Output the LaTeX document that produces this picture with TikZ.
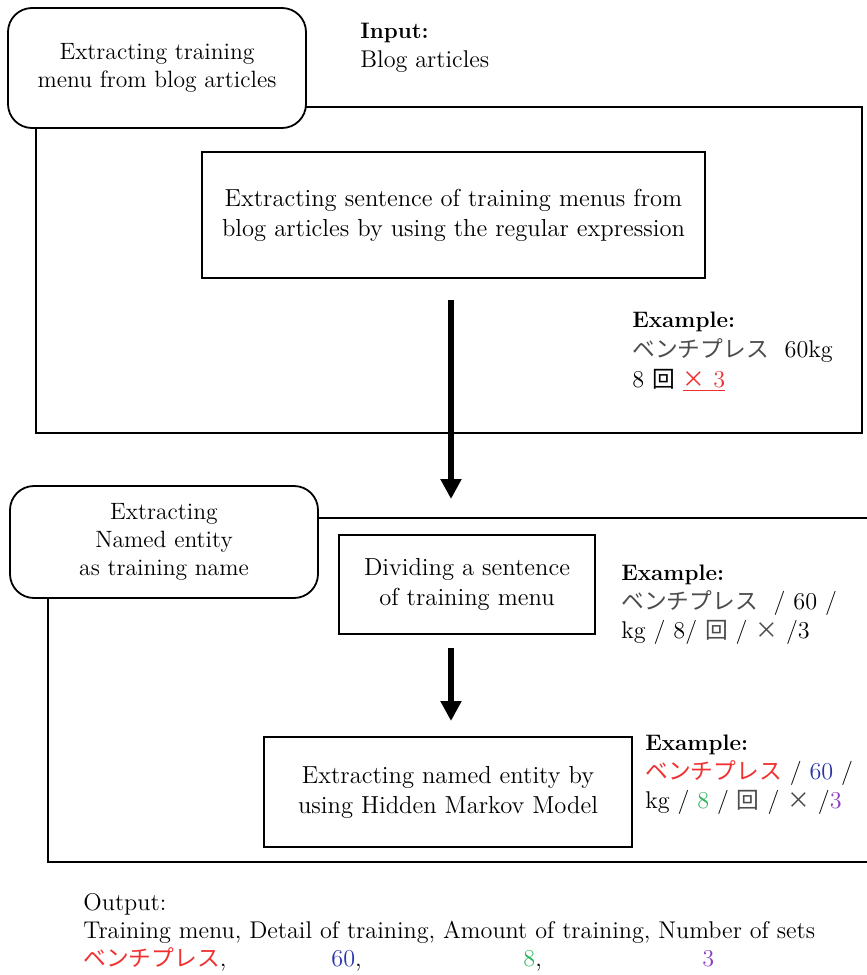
\documentclass[tikz,border=0pt]{standalone}
\usepackage{fontspec}
\newfontfamily\jp[Scale=0.94]{Noto Sans CJK JP}
\usetikzlibrary{arrows.meta,positioning}
\definecolor{jred}{HTML}{F03030}
\definecolor{jblue}{HTML}{2A35A8}
\definecolor{jgreen}{HTML}{2DB35A}
\definecolor{jpurple}{HTML}{8A3FC0}
\newcommand{\kana}[1]{{\jp\color{black!70}#1}}
\newcommand{\head}[1]{{\fontsize{11.2}{14.5}\selectfont\bfseries #1}}
\tikzset{
  stage/.style={draw, rounded corners=12pt, fill=white, line width=0.9pt,
    align=center, font=\fontsize{11.8}{14}\selectfont},
  procbox/.style={draw, fill=white, line width=0.9pt,
    align=center, font=\fontsize{12.3}{15}\selectfont},
  frame/.style={line width=0.9pt},
  flow/.style={line width=2.6pt, -{Triangle[width=10pt,length=10pt]}},
  note/.style={align=left, inner sep=0pt, anchor=west,
    font=\fontsize{12.1}{14.5}\selectfont},
}
\begin{document}
\begin{tikzpicture}[x=0.5pt,y=-0.5pt]
\useasboundingbox (0,0) rectangle (867,975);
% first stage
\draw[frame] (36,107) rectangle (862,433);
\node[stage, minimum width=149pt, minimum height=60pt] (menu) at (157,68)
  {Extracting training\\menu from blog articles};
\node[note] (input) at (360,48) {\head{Input:}\\Blog articles};
\node[procbox, minimum width=251.5pt, minimum height=63pt] (regex) at (453.5,215)
  {Extracting sentence of training menus from\\blog articles by using the regular expression};
\node[note, font=\fontsize{12.1}{15}\selectfont] (ex1) at (632,352)
  {\head{Example:}\\\kana{ベンチプレス}\ \ 60kg\\8 {\jp 回}\ {\color{jred}\underline{{\jp ×}\ 3}}};
% second stage
\draw[frame] (867,518) -- (48,518) -- (48,862) -- (867,862);
\node[stage, minimum width=154pt, minimum height=56pt] (entity) at (164,542)
  {Extracting\\Named entity\\as training name};
\node[procbox, minimum width=128pt, minimum height=49.5pt] (divide) at (467,584.5)
  {Dividing a sentence\\of training menu};
\node[note] (ex2) at (621,605)
  {\head{Example:}\\\kana{ベンチプレス}\ \ / 60 /\\kg / 8/ \kana{回} / \kana{×}\ /3};
\node[procbox, minimum width=184pt, minimum height=55pt] (hmm) at (448,792)
  {Extracting named entity by\\using Hidden Markov Model};
\node[note] (ex3) at (645,775)
  {\head{Example:}\\{\jp\color{jred}ベンチプレス} / {\color{jblue}60} /\\kg / {\color{jgreen}8} / \kana{回} / \kana{×} /{\color{jpurple}3}};
% output
\node[note, font=\fontsize{12.1}{14}\selectfont] (output) at (83,932)
  {Output:\\Training menu, Detail of training, Amount of training,\ Number of sets\\
   \makebox[124pt][l]{{\jp\color{jred}ベンチプレス},}\makebox[96pt][l]{{\color{jblue}60},}\makebox[89.5pt][l]{{\color{jgreen}8},}{\color{jpurple}3}};
% arrows
\coordinate (a1s) at (451,300);
\coordinate (a1e) at (451,499);
\coordinate (a2s) at (451,648);
\coordinate (a2e) at (451,721);
\draw[flow] (a1s) -- (a1e);
\draw[flow] (a2s) -- (a2e);
\end{tikzpicture}
\end{document}
